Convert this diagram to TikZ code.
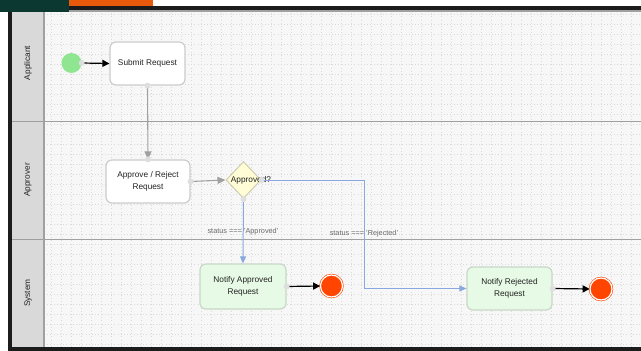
\documentclass[tikz,border=0pt]{standalone}
\usepackage{fontspec}
\setmainfont{Liberation Sans}
\usetikzlibrary{arrows.meta,shapes.geometric}
\definecolor{topgreen}{RGB}{11,56,48}
\definecolor{toporange}{RGB}{232,89,12}
\definecolor{framebk}{RGB}{28,28,28}
\definecolor{canvas}{RGB}{247,247,247}
\definecolor{gridcol}{RGB}{218,218,218}
\definecolor{headfill}{RGB}{217,217,217}
\definecolor{laneline}{RGB}{160,160,160}
\definecolor{boxline}{RGB}{204,204,204}
\definecolor{greenfill}{RGB}{230,250,230}
\definecolor{greenline}{RGB}{200,215,200}
\definecolor{diafill}{RGB}{255,252,214}
\definecolor{diaborder}{RGB}{205,205,175}
\definecolor{startgreen}{RGB}{144,230,144}
\definecolor{endred}{RGB}{255,69,0}
\definecolor{blueline}{RGB}{138,168,224}
\definecolor{grayline}{RGB}{160,160,160}
\definecolor{portcol}{RGB}{222,222,222}
\definecolor{textcol}{RGB}{35,35,35}
\definecolor{labelcol}{RGB}{105,105,105}
\newcommand{\nfont}{\fontsize{8.3}{11.5}\selectfont}
\newcommand{\sfont}{\fontsize{7.3}{9}\selectfont}
\begin{document}
\begin{tikzpicture}[x=1pt,y=-1pt,
  procbox/.style={rectangle, rounded corners=6pt, draw=boxline, line width=1.2pt, fill=white, align=center, text=textcol, font=\nfont, inner sep=2pt},
  greenbox/.style={procbox, fill=greenfill, draw=greenline},
  port/.style={circle, fill=portcol, inner sep=0pt, minimum size=6pt},
  endev/.style={circle, fill=endred, draw=endred, double=white, double distance=1.2pt, line width=0.6pt, minimum size=22pt, inner sep=0pt},
  blkarrow/.style={draw=black, line width=1.2pt, -{Triangle[length=7pt,width=7pt]}},
  grayarrow/.style={draw=grayline, line width=1.1pt, -{Triangle[length=8pt,width=7pt]}},
  bluearrow/.style={draw=blueline, line width=1pt, -{Triangle[length=7pt,width=6pt]}},
  lanelabel/.style={rotate=90, font=\nfont, text=textcol},
  condlabel/.style={font=\sfont, text=labelcol, inner sep=1pt},
  gridline/.style={draw=gridcol, line width=0.5pt, dash pattern=on 0.6pt off 2.6pt}
]
\useasboundingbox (0,0) rectangle (641,351);
\fill[white] (0,0) rectangle (641,351);
% frame
\fill[framebk] (8,6) rectangle (641,351);
\fill[canvas] (12,10) rectangle (641,347);
% grid
\foreach \gx in {51.7,61.7,...,641} \draw[gridline] (\gx,10) -- (\gx,347);
\foreach \gy in {14,24,...,347} \draw[gridline] (44,\gy) -- (641,\gy);
% lane header column
\fill[headfill] (12,10) rectangle (44,347);
\draw[laneline, line width=1.2pt] (44,10) -- (44,347);
\draw[laneline, line width=1.5pt] (12,10.8) -- (641,10.8);
\draw[laneline, line width=1.5pt] (12,121.5) -- (641,121.5);
\draw[laneline, line width=1.5pt] (12,239.5) -- (641,239.5);
% top bars
\fill[topgreen] (0,0) rectangle (69,12);
\fill[toporange] (69,0) rectangle (153,6);
% lane labels
\node[lanelabel] (laneA) at (28,63) {Applicant};
\node[lanelabel] (laneB) at (28,180) {Approver};
\node[lanelabel] (laneC) at (28,293) {System};
% nodes
\node[circle, fill=startgreen, minimum size=20pt, inner sep=0pt] (start) at (71.5,63) {};
\node[procbox, minimum width=75pt, minimum height=43pt] (submit) at (147.5,63.5) {Submit Request};
\node[procbox, minimum width=84pt, minimum height=43pt] (review) at (148,181.5) {Approve / Reject\\Request};
\node[diamond, draw=diaborder, fill=diafill, line width=1pt, minimum width=35pt, minimum height=37pt, inner sep=0pt] (dia) at (243.5,180) {};
\node[font=\nfont, text=textcol, inner sep=0pt] (dialabel) at (251,180) {Approved?};
\node[greenbox, minimum width=86pt, minimum height=45pt] (notifyA) at (243,286.5) {Notify Approved\\Request};
\node[endev] (endA) at (331.5,286) {};
\node[greenbox, minimum width=85pt, minimum height=43pt] (notifyR) at (509.5,288.5) {Notify Rejected\\Request};
\node[endev] (endR) at (601,289) {};
\coordinate (bendR) at (364,180);
% connectors
\draw[blkarrow] (start.east) -- (submit.west);
\draw[grayarrow] (submit.south) -- (review.north);
\draw[grayarrow] (review.east) -- (dia.west);
\draw[bluearrow] (dia.south) -- (notifyA.north);
\draw[bluearrow] (dia.east) -- (bendR) |- (notifyR.west);
\draw[blkarrow] (notifyA.east) -- (endA.west);
\draw[blkarrow] (notifyR.east) -- (endR.west);
\node[condlabel] (lblA) at (243,232) {status === 'Approved'};
\node[condlabel] (lblR) at (364,234) {status === 'Rejected'};
% ports
\node[port] (p1) at (start.east) {};
\node[port] (p2) at (submit.south) {};
\node[port] (p3) at (review.north) {};
\node[port] (p4) at (review.east) {};
\node[port] (p5) at (dia.south) {};
\node[port] (p6) at (dia.east) {};
\node[port] (p7) at (notifyA.east) {};
\node[port] (p8) at (notifyR.east) {};
\end{tikzpicture}
\end{document}
